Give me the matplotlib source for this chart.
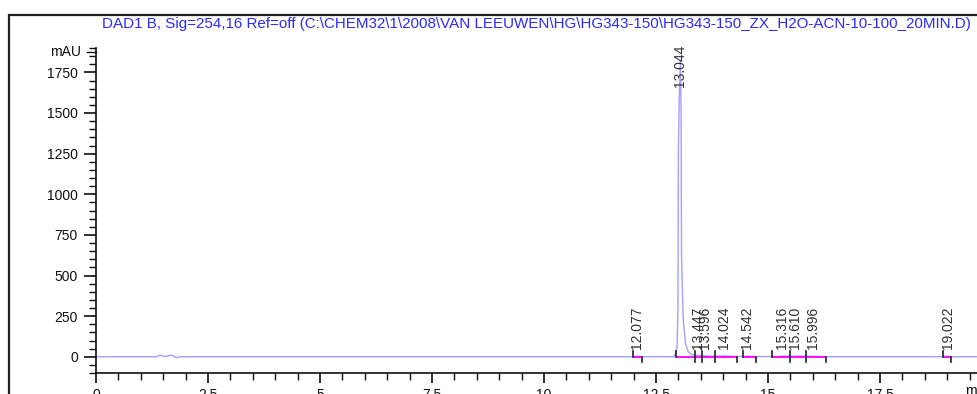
import matplotlib
matplotlib.use("Agg")
import matplotlib.pyplot as plt
from matplotlib.patches import Rectangle
from matplotlib.ticker import MultipleLocator

plt.rcParams['font.family'] = ['Liberation Sans', 'DejaVu Sans']

title = r"DAD1 B, Sig=254,16 Ref=off (C:\CHEM32\1\2008\VAN LEEUWEN\HG\HG343-150\HG343-150_ZX_H2O-ACN-10-100_20MIN.D)"

# chromatogram trace (min, mAU)
trace_t = [0.0, 1.35, 1.40, 1.45, 1.50, 1.55, 1.62, 1.68, 1.74, 1.79, 1.84, 1.90,
           11.95, 12.03, 12.077, 12.12, 12.20,
           12.90, 12.94, 12.97, 12.99, 13.00, 13.02, 13.045, 13.06, 13.07, 13.09,
           13.11, 13.16, 13.22, 13.30, 13.447, 13.596, 13.75, 14.024, 14.25,
           14.45, 14.542, 14.70, 15.20, 15.316, 15.610, 15.996, 16.30,
           18.90, 19.022, 19.10, 20.0]
trace_y = [0.0, 0.0, 8.0, 10.0, 4.0, 2.0, 6.0, 10.0, 3.0, -6.0, -2.0, 0.0,
           0.0, 2.0, 5.0, 2.0, 0.0,
           0.0, 20.0, 60.0, 300.0, 1280.0, 1600.0, 1830.0, 1500.0, 620.0, 400.0,
           220.0, 80.0, 30.0, 12.0, 8.0, 6.0, 3.0, 5.0, 2.0,
           1.0, 4.0, 1.0, 1.0, 4.0, 4.0, 3.0, 0.0,
           0.0, 4.0, 0.0, 0.0]

# peak retention times and labels
peak_rt = [12.077, 13.044, 13.447, 13.596, 14.024, 14.542, 15.316, 15.610, 15.996, 19.022]
peak_labels = ["12.077", "13.044", "13.447", "13.596", "14.024", "14.542",
               "15.316", "15.610", "15.996", "19.022"]
peak_label_y = [50, 1660, 50, 50, 50, 50, 50, 50, 50, 50]

# integration baseline segments (start, end)
seg_start = [11.99, 12.94, 13.37, 13.52, 13.82, 14.45, 15.08, 15.49, 15.85, 18.91]
seg_end = [12.18, 13.37, 13.52, 13.82, 14.30, 14.74, 15.49, 15.85, 16.29, 19.08]

x_major = [0, 2.5, 5, 7.5, 10, 12.5, 15, 17.5]
x_major_labels = ["0", "2.5", "5", "7.5", "10", "12.5", "15", "17.5"]
y_major = [0, 250, 500, 750, 1000, 1250, 1500, 1750]

W, H = 978, 394
fig = plt.figure(figsize=(W / 100, H / 100), dpi=100)

# outer frame
fig.add_artist(Rectangle((9 / W, -0.5), 2.0, (1 - 15 / H) + 0.5,
                         transform=fig.transFigure, fill=False,
                         edgecolor='#202020', linewidth=1.6, clip_on=False))

fig.text(536 / W, 1 - 24 / H, title, color='#2a2aff', fontsize=10.9,
         ha='center', va='center')

ax_left, ax_right = 96, 992
ax_top, ax_bottom = 48, 373
ax = fig.add_axes([ax_left / W, 1 - ax_bottom / H, (ax_right - ax_left) / W,
                   (ax_bottom - ax_top) / H])
ax.set_xlim(0, 20)
ax.set_ylim(-100, 1900)
ax.patch.set_alpha(0)

ax.plot(trace_t, trace_y, color='#a0a0ff', linewidth=1.0, solid_joinstyle='miter')

for s, e in zip(seg_start, seg_end):
    ax.plot([s, e], [0, 0], color='#ff00ff', linewidth=1.3, solid_capstyle='butt')
    ax.plot([s, s], [0, 35], color='#202020', linewidth=1.2)
    ax.plot([e, e], [0, -35], color='#202020', linewidth=1.2)

for rt, lab, ly in zip(peak_rt, peak_labels, peak_label_y):
    ax.text(rt, ly, lab, rotation=90, ha='center', va='bottom',
            fontsize=10, color='#303030', clip_on=False)

for sp in ['top', 'right']:
    ax.spines[sp].set_visible(False)
for sp in ['left', 'bottom']:
    ax.spines[sp].set_linewidth(1.2)
    ax.spines[sp].set_color('#101010')

ax.set_xticks(x_major)
ax.set_xticklabels(x_major_labels)
ax.xaxis.set_minor_locator(MultipleLocator(0.5))
ax.set_yticks(y_major)
ax.yaxis.set_minor_locator(MultipleLocator(50))
ax.tick_params(axis='both', which='major', direction='out', length=7, width=1.2,
               labelsize=10, colors='#101010', pad=4)
ax.tick_params(axis='both', which='minor', direction='out', length=5, width=1.0,
               colors='#101010')
ax.tick_params(axis='y', which='major', length=9)

ax.text(-0.33, 1875, "mAU", ha='right', va='center', fontsize=10, color='#101010')
ax.plot([-0.2, 0], [1875, 1875], color='#101010', linewidth=1.0, clip_on=False)
fig.text(965 / W, 1 - 384 / H, "min", ha='left', va='top', fontsize=10, color='#101010')

fig.savefig("out.png", dpi=100)
